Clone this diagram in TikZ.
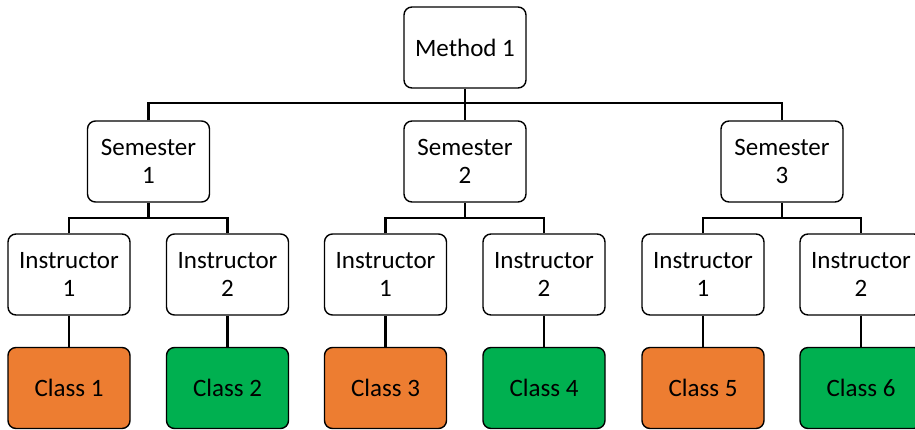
\documentclass[tikz,border=0pt]{standalone}
\usepackage{fontspec}
\setmainfont{Carlito}
\definecolor{corange}{HTML}{ED7D31}
\definecolor{cgreen}{HTML}{00B050}
\begin{document}
\begin{tikzpicture}[x=1pt,y=1pt,
  box/.style={draw=black,line width=1.4pt,rounded corners=8pt,minimum width=122pt,minimum height=81pt,align=center,inner sep=0pt,font=\fontsize{25}{28.5}\selectfont,fill=white},
  orangebox/.style={box,fill=corange},
  greenbox/.style={box,fill=cgreen},
  conn/.style={line width=2.2pt}]
\useasboundingbox (0,0) rectangle (915,-429);
\clip (0,0) rectangle (915,-429);
\node[box] (m) at (465,-47.5) {Method 1};
\node[box] (s1) at (148.5,-161.5) {Semester\\1};
\node[box] (s2) at (465,-161.5) {Semester\\2};
\node[box] (s3) at (782,-161.5) {Semester\\3};
\node[box] (i1) at (69,-274.5) {Instructor\\1};
\node[box] (i2) at (227.5,-274.5) {Instructor\\2};
\node[box] (i3) at (385.5,-274.5) {Instructor\\1};
\node[box] (i4) at (544,-274.5) {Instructor\\2};
\node[box] (i5) at (703,-274.5) {Instructor\\1};
\node[box] (i6) at (861,-274.5) {Instructor\\2};
\node[orangebox] (c1) at (69,-388) {Class 1};
\node[greenbox] (c2) at (227.5,-388) {Class 2};
\node[orangebox] (c3) at (385.5,-388) {Class 3};
\node[greenbox] (c4) at (544,-388) {Class 4};
\node[orangebox] (c5) at (703,-388) {Class 5};
\node[greenbox] (c6) at (861,-388) {Class 6};
\coordinate (mb) at (465,-103);
\coordinate (b1) at (148.5,-218);
\coordinate (b2) at (465,-218);
\coordinate (b3) at (782,-218);
\draw[conn] (m.south) -- (mb);
\draw[conn] (s1.north) |- (mb) -| (s3.north);
\draw[conn] (mb) -- (s2.north);
\draw[conn] (s1.south) -- (b1);
\draw[conn] (i1.north) |- (b1) -| (i2.north);
\draw[conn] (s2.south) -- (b2);
\draw[conn] (i3.north) |- (b2) -| (i4.north);
\draw[conn] (s3.south) -- (b3);
\draw[conn] (i5.north) |- (b3) -| (i6.north);
\draw[conn] (i1.south) -- (c1.north);
\draw[conn] (i2.south) -- (c2.north);
\draw[conn] (i3.south) -- (c3.north);
\draw[conn] (i4.south) -- (c4.north);
\draw[conn] (i5.south) -- (c5.north);
\draw[conn] (i6.south) -- (c6.north);
\end{tikzpicture}
\end{document}
